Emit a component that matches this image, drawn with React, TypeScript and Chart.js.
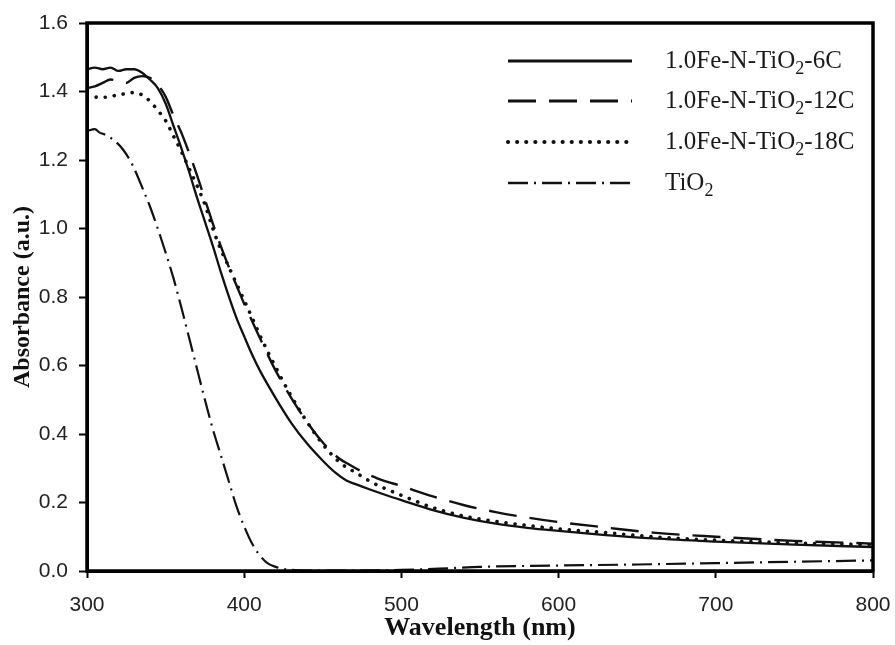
import React, { useEffect, useRef } from "react";
import { Chart, registerables } from "chart.js";

Chart.register(...registerables);

// ---- data ----
const xTicks = [300, 400, 500, 600, 700, 800];
const yTicks = [0.0, 0.2, 0.4, 0.6, 0.8, 1.0, 1.2, 1.4, 1.6];

const seriesLabels = [
  "1.0Fe-N-TiO₂-6C",
  "1.0Fe-N-TiO₂-12C",
  "1.0Fe-N-TiO₂-18C",
  "TiO₂",
];

const wl6C = [300, 305, 310, 315, 320, 325, 330, 335, 340, 345, 350, 355, 360, 365, 370, 375, 380, 385, 390, 395, 400, 405, 410, 420, 430, 440, 450, 458, 465, 470, 480, 490, 500, 520, 540, 560, 580, 600, 630, 660, 700, 750, 800];
const abs6C = [1.465, 1.47, 1.465, 1.47, 1.46, 1.465, 1.465, 1.455, 1.435, 1.41, 1.365, 1.3, 1.235, 1.165, 1.09, 1.02, 0.95, 0.875, 0.805, 0.74, 0.685, 0.632, 0.585, 0.505, 0.432, 0.372, 0.322, 0.287, 0.264, 0.255, 0.238, 0.222, 0.207, 0.178, 0.155, 0.138, 0.126, 0.117, 0.105, 0.095, 0.086, 0.077, 0.07];

const wl12C = [300, 305, 310, 315, 320, 325, 330, 335, 340, 345, 350, 355, 360, 365, 370, 375, 380, 385, 390, 395, 400, 405, 410, 420, 430, 440, 450, 460, 467, 475, 485, 500, 520, 540, 560, 580, 600, 630, 660, 700, 750, 800];
const abs12C = [1.41, 1.415, 1.425, 1.435, 1.43, 1.425, 1.44, 1.445, 1.44, 1.42, 1.385, 1.33, 1.28, 1.22, 1.155, 1.085, 1.015, 0.95, 0.89, 0.835, 0.78, 0.73, 0.68, 0.585, 0.505, 0.435, 0.375, 0.33, 0.31, 0.29, 0.27, 0.248, 0.218, 0.192, 0.172, 0.156, 0.143, 0.127, 0.112, 0.1, 0.088, 0.08];

const wl18C = [300, 310, 320, 330, 335, 340, 345, 350, 355, 360, 365, 370, 375, 380, 385, 390, 395, 400, 405, 410, 420, 430, 440, 450, 460, 465, 470, 480, 490, 500, 520, 540, 560, 580, 600, 630, 660, 700, 750, 800];
const abs18C = [1.385, 1.383, 1.39, 1.397, 1.39, 1.372, 1.345, 1.315, 1.27, 1.225, 1.175, 1.125, 1.07, 1.0, 0.94, 0.89, 0.84, 0.79, 0.74, 0.688, 0.595, 0.51, 0.435, 0.37, 0.32, 0.303, 0.29, 0.262, 0.24, 0.221, 0.185, 0.16, 0.145, 0.133, 0.123, 0.112, 0.1, 0.09, 0.082, 0.077];

const wlTiO2 = [300, 305, 308, 311, 317, 323, 329, 336, 340, 345, 350, 355, 360, 365, 370, 375, 380, 385, 390, 395, 400, 405, 410, 415, 420, 425, 435, 450, 500, 530, 550, 600, 650, 700, 750, 800];
const absTiO2 = [1.285, 1.29, 1.28, 1.275, 1.258, 1.23, 1.185, 1.11, 1.065, 1.0, 0.93, 0.855, 0.77, 0.68, 0.59, 0.5, 0.415, 0.34, 0.265, 0.19, 0.13, 0.08, 0.045, 0.022, 0.012, 0.006, 0.002, 0.001, 0.003, 0.008, 0.012, 0.016, 0.019, 0.023, 0.027, 0.031];

const toPoints = (xs: number[], ys: number[]) => xs.map((x, i) => ({ x, y: ys[i] }));

const INK = "#111111";
const dashes: number[][] = [[], [28, 13], [0.1, 9], [20, 6, 2, 6]];
const widths = [2.3, 2.4, 3.6, 2.2];
const caps: CanvasLineCap[] = ["butt", "butt", "round", "butt"];

// draws "TiO₂"-style text with a real subscript 2
function drawSubText(ctx: CanvasRenderingContext2D, text: string, x: number, y: number, size: number) {
  const parts = text.split("₂");
  let cx = x;
  parts.forEach((p, i) => {
    ctx.font = `${size}px "Liberation Serif", "Times New Roman", serif`;
    ctx.fillText(p, cx, y);
    cx += ctx.measureText(p).width;
    if (i < parts.length - 1) {
      ctx.font = `${Math.round(size * 0.7)}px "Liberation Serif", "Times New Roman", serif`;
      ctx.fillText("2", cx, y + size * 0.32);
      cx += ctx.measureText("2").width;
    }
  });
}

const legendPlugin = {
  id: "customLegend",
  afterDatasetsDraw(chart: any) {
    const ctx = chart.ctx as CanvasRenderingContext2D;
    const rows = [61, 101, 142, 183];
    ctx.save();
    chart.data.datasets.forEach((ds: any, i: number) => {
      const y = rows[i];
      ctx.beginPath();
      ctx.strokeStyle = INK;
      ctx.lineWidth = widths[i] + 0.5;
      ctx.lineCap = caps[i];
      ctx.setLineDash(dashes[i]);
      ctx.moveTo(508, y);
      ctx.lineTo(632, y);
      ctx.stroke();
      ctx.setLineDash([]);
      ctx.fillStyle = "#1a1a1a";
      ctx.textBaseline = "middle";
      ctx.textAlign = "left";
      drawSubText(ctx, ds.label, 665, y, 25);
    });
    ctx.restore();
  },
};

const framePlugin = {
  id: "frame",
  afterDraw(chart: any) {
    const { left, right, top, bottom } = chart.chartArea;
    const ctx = chart.ctx as CanvasRenderingContext2D;
    ctx.save();
    ctx.strokeStyle = "#000";
    ctx.lineWidth = 3.5;
    ctx.strokeRect(left, top, right - left, bottom - top);
    ctx.restore();
  },
};

export default function App() {
  const ref = useRef<HTMLCanvasElement | null>(null);

  useEffect(() => {
    document.body.style.margin = "0";
    const canvas = ref.current;
    if (!canvas) return;
    const series = [
      toPoints(wl6C, abs6C),
      toPoints(wl12C, abs12C),
      toPoints(wl18C, abs18C),
      toPoints(wlTiO2, absTiO2),
    ];
    const chart = new Chart(canvas, {
      type: "line",
      data: {
        datasets: series.map((data, i) => ({
          label: seriesLabels[i],
          data,
          borderColor: INK,
          borderWidth: widths[i],
          borderDash: dashes[i],
          borderCapStyle: caps[i],
          pointRadius: 0,
          fill: false,
          cubicInterpolationMode: "monotone" as const,
        })),
      },
      options: {
        responsive: false,
        animation: false,
        events: [],
        layout: { padding: { top: 23, right: 22, left: 0, bottom: 0 } },
        plugins: {
          legend: { display: false },
          tooltip: { enabled: false },
        },
        scales: {
          x: {
            type: "linear",
            min: xTicks[0],
            max: xTicks[xTicks.length - 1],
            afterBuildTicks: (s: any) => {
              s.ticks = xTicks.map((v) => ({ value: v }));
            },
            afterFit: (s: any) => {
              s.height = 74;
              s.paddingLeft = 0;
              s.paddingRight = 0;
            },
            grid: { drawOnChartArea: false, drawTicks: true, tickLength: 7, tickWidth: 2, tickColor: "#000" },
            border: { display: true, color: "#000", width: 3 },
            ticks: {
              color: "#222",
              padding: 15,
              maxRotation: 0,
              font: { family: '"Liberation Sans", Arial, sans-serif', size: 21 },
              callback: (v: any) => String(v),
            },
            title: {
              display: true,
              text: "Wavelength (nm)",
              color: "#111",
              padding: { top: 0, bottom: 1 },
              font: { family: '"Liberation Serif", "Times New Roman", serif', size: 26, weight: "bold" },
            },
          },
          y: {
            type: "linear",
            min: yTicks[0],
            max: yTicks[yTicks.length - 1],
            afterBuildTicks: (s: any) => {
              s.ticks = yTicks.map((v) => ({ value: v }));
            },
            afterFit: (s: any) => {
              s.width = 87;
              s.paddingTop = 0;
              s.paddingBottom = 0;
            },
            grid: { drawOnChartArea: false, drawTicks: true, tickLength: 8, tickWidth: 2, tickColor: "#000" },
            border: { display: true, color: "#000", width: 3 },
            ticks: {
              color: "#222",
              padding: 11,
              font: { family: '"Liberation Sans", Arial, sans-serif', size: 21 },
              callback: (v: any) => Number(v).toFixed(1),
            },
            title: {
              display: true,
              text: "Absorbance (a.u.)",
              color: "#111",
              padding: { top: 8, bottom: 0 },
              font: { family: '"Liberation Serif", "Times New Roman", serif', size: 24, weight: "bold" },
            },
          },
        },
      },
      plugins: [legendPlugin, framePlugin],
    });
    return () => chart.destroy();
  }, []);

  return (
    <div style={{ width: 895, height: 645, background: "#fff" }}>
      <canvas ref={ref} width={895} height={645} style={{ display: "block" }} />
    </div>
  );
}
